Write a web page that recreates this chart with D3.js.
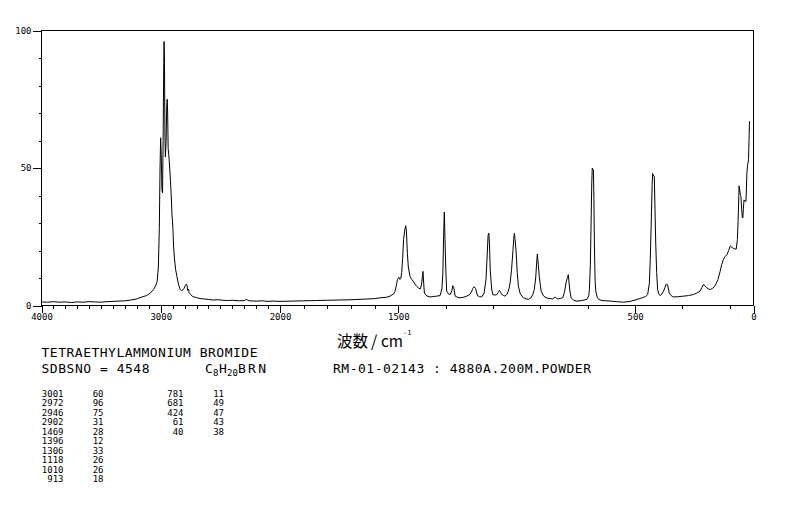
<!DOCTYPE html>
<html><head><meta charset="utf-8">
<script src="https://cdn.jsdelivr.net/npm/d3@7"></script>
<style>
html,body{margin:0;padding:0;background:#fff;}
svg{display:block;}
</style></head>
<body>
<svg id="chart" width="794" height="510"></svg>
<script>
// ---------- data ----------
const spectrumWn = [4000,3950,3900,3850,3800,3750,3700,3650,3600,3550,3500,3450,3400,3350,3300,3250,3200,3150,3120,3090,3060,3040,3030,3020,3012,3006,3001,2996,2990,2985,2980,2975,2972,2969,2965,2961,2955,2950,2946,2942,2938,2933,2925,2918,2910,2906,2902,2898,2893,2885,2875,2864,2850,2837,2825,2815,2805,2795,2785,2780,2775,2768,2762,2750,2730,2700,2670,2640,2600,2560,2520,2480,2440,2400,2350,2300,2280,2260,2200,2150,2100,2050,2000,1950,1900,1850,1800,1750,1700,1650,1600,1577,1550,1535,1520,1514,1508,1504,1498,1494,1490,1486,1482,1478,1473,1469,1466,1462,1458,1451,1444,1437,1430,1423,1416,1408,1402,1398,1396,1393,1390,1380,1366,1350,1338,1324,1316,1312,1309,1306,1303,1300,1296,1288,1281,1274,1270,1266,1260,1250,1239,1225,1211,1198,1190,1186,1179,1174,1166,1157,1148,1138,1130,1125,1121,1118,1115,1112,1106,1101,1092,1084,1078,1073,1068,1063,1055,1049,1040,1033,1028,1022,1016,1012,1010,1007,1003,998,993,985,972,960,951,940,932,926,920,915,913,909,905,897,887,876,860,848,842,837,832,827,815,806,798,792,786,782,779,775,770,760,746,725,704,696,693,689,686,683,681,678,676,674,672,669,666,660,654,640,620,605,580,549,520,492,470,455,447,440,436,432,428,426,424,421,419,416,413,409,405,400,394,387,380,374,370,366,363,359,356,348,338,320,296,275,254,240,226,218,212,205,197,190,183,172,162,150,141,134,127,120,112,105,98,92,87,80,73,68,65,62,61,58,55,53,50,47,45,43,40,36,32,30,28,25,21,19,17];
const spectrumInt = [1.3,1.2,1.4,1.2,1.3,1.1,1.3,1.2,1.4,1.3,1.2,1.4,1.5,1.6,1.7,2.0,2.4,3.2,3.6,4.4,5.8,7.5,8.8,14,28,50,61,55,42,41,60,88,96,90,62,54,60,72,75,70,57,55,50,45,38,33,31,28,22,17,13,10.5,7.5,5.8,5.4,5.6,6.2,7.2,7.8,7.4,5.5,6,4.7,4.0,3.2,2.9,2.5,2.4,2.2,2.0,2.1,1.9,1.8,1.9,1.7,1.8,2.2,1.7,1.6,1.7,1.5,1.6,1.5,1.6,1.7,1.8,1.9,2.0,2.1,2.3,2.5,2.8,3.0,3.4,4.2,5.2,7.5,9.4,10.2,9.5,9.8,12,17,24,27.5,29,27,19,14,10.6,9.5,8.8,7.8,7,6.4,6.0,7.5,11,12.4,8,4.5,3.5,3.1,3.3,3.4,3.6,6,12,25,34,24,14,5.2,4.2,4.0,5.5,7.2,6.5,3.4,3.0,2.8,3.0,3.4,4.0,5.2,6.2,6.8,6.2,3.6,3.2,3.1,4.5,9.4,18,25.5,26.3,22,13,6,4.0,3.8,4.0,4.8,5.5,4.8,4.0,3.6,3.4,4.2,6,8.2,13,20,25,26.3,24,20,12,7,4.2,2.8,2.4,2.2,2.8,4.0,5.8,10,16.7,18.7,15,10.6,5.2,3.5,2.8,2.5,2.4,2.8,3.1,2.6,2.4,2.6,2.8,5,8.2,10.2,11.2,8.2,5,2.8,1.9,1.6,1.8,2.2,3.5,5.8,15,30,45,50,49.5,49.3,38,22,9,5.2,3,2.2,1.8,1.7,1.6,1.4,1.2,1.5,2.2,2.8,3.3,4,8,16.7,30,44,48,47.5,47,46.9,35,22.7,12,5.8,4.2,3.6,4.2,5.2,6.5,7.6,7.8,7.6,6,4.6,3.6,3.1,3.2,3.4,3.6,4.0,4.5,5.2,6.5,7.6,7.2,6.4,6.0,5.8,6.3,7.2,9.5,12.4,15,16.7,17.8,18.5,20,21.7,21.2,20.9,20.6,20.5,24,31,40,43.5,42,40,39.6,35,32,31.8,35,38.4,38,37.8,42,48,51,53,60,67];

const xMajorTicks = [4000,3000,2000,1500,500,0];
const xMajorLabels = ["4000","3000","2000","1500","500","0"];
const xMinorTicks = [3900,3800,3700,3600,3500,3400,3300,3200,3100,2900,2800,2700,2600,2500,2400,2300,2200,2100,1900,1800,1700,1600,1300,1100,900,700,300,100];
const yMajorTicks = [0,50,100];
const yMinorTicks = [10,20,30,40,60,70,80,90];

const titleText = "TETRAETHYLAMMONIUM BROMIDE";
const sdbsText = "SDBSNO = 4548";
const condText = "RM-01-02143 : 4880A.200M.POWDER";
const axisLabelCJK = "波数";
const axisLabelUnit = "cm";

const peakWnA = ["3001","2972","2946","2902","1469","1396","1306","1118","1010","913"];
const peakIntA = ["60","96","75","31","28","12","33","26","26","18"];
const peakWnB = ["781","681","424","61","40"];
const peakIntB = ["11","49","47","43","38"];

// ---------- drawing ----------
const svg = d3.select("#chart");
const L = 41.5, R = 753.5, T = 30.5, B = 305.5;
const x = d3.scaleLinear().domain([4000,2000,0]).range([L,280,R]);
const y = d3.scaleLinear().domain([0,100]).range([B,T]);
const mono = "'DejaVu Sans Mono', 'Liberation Mono', monospace";
const cjk = "'Noto Sans CJK JP','Noto Sans CJK SC',sans-serif";

svg.append("rect").attr("width",794).attr("height",510).attr("fill","#fff");

// frame
svg.append("rect").attr("x",L).attr("y",T).attr("width",R-L).attr("height",B-T)
  .attr("fill","none").attr("stroke","#000").attr("stroke-width",1).attr("shape-rendering","crispEdges");

// x axis
const gxMinor = svg.append("g").attr("transform",`translate(0,${B})`)
  .call(d3.axisBottom(x).tickValues(xMinorTicks).tickSize(3).tickFormat(""));
const gxMajor = svg.append("g").attr("transform",`translate(0,${B})`)
  .call(d3.axisBottom(x).tickValues(xMajorTicks).tickSize(7).tickPadding(1)
    .tickFormat((d,i)=>xMajorLabels[i]));
// y axis
const gyMinor = svg.append("g").attr("transform",`translate(${L},0)`)
  .call(d3.axisLeft(y).tickValues(yMinorTicks).tickSize(3).tickFormat(""));
const gyMajor = svg.append("g").attr("transform",`translate(${L},0)`)
  .call(d3.axisLeft(y).tickValues(yMajorTicks).tickSize(9).tickPadding(1).tickFormat(d=>String(d)));

[gxMinor,gxMajor,gyMinor,gyMajor].forEach(g=>{
  g.select(".domain").remove();
  g.selectAll("line").attr("stroke","#000").attr("shape-rendering","crispEdges");
  g.selectAll("text").attr("fill","#000").style("font-family",mono).style("font-size","9px");
});

// spectrum
const pts = spectrumWn.map((w,i)=>[w,spectrumInt[i]]);
const line = d3.line().x(d=>x(d[0])).y(d=>y(d[1]));
svg.append("path").datum(pts).attr("d",line).attr("fill","none")
  .attr("stroke","#000").attr("stroke-width",1).attr("stroke-linejoin","miter");

// axis label: 波数/cm^-1 (one text element, superscript as tspan)
const al = svg.append("text").attr("y",347).attr("fill","#000").style("font-size","16px");
al.append("tspan").attr("x",337).style("font-family",cjk).attr("textLength",31).attr("lengthAdjust","spacingAndGlyphs").text(axisLabelCJK);
al.append("tspan").attr("x",371).style("font-family",cjk).text("/");
al.append("tspan").attr("x",381).style("font-family",cjk).attr("textLength",22).attr("lengthAdjust","spacingAndGlyphs").text(axisLabelUnit);
al.append("tspan").attr("x",403).attr("dy",-12.5).style("font-family",mono).style("font-size","7px").text("-1");

// header texts
svg.append("text").attr("x",41.5).attr("y",356.5).style("font-family",mono).style("font-size","13px")
  .attr("textLength",216).attr("lengthAdjust","spacing").attr("fill","#000").text(titleText);
svg.append("text").attr("x",41.5).attr("y",372.5).style("font-family",mono).style("font-size","13px")
  .attr("textLength",108).attr("lengthAdjust","spacing").attr("fill","#000").text(sdbsText);
svg.append("text").attr("x",333).attr("y",372.5).style("font-family",mono).style("font-size","13px")
  .attr("textLength",258).attr("lengthAdjust","spacing").attr("fill","#000").text(condText);

// formula
const f = svg.append("text").attr("y",372.5).style("font-family",mono).style("font-size","13px").attr("fill","#000");
f.append("tspan").attr("x",205).text("C");
f.append("tspan").attr("x",213).attr("dy",3).style("font-size","9px").text("8");
f.append("tspan").attr("x",219).attr("dy",-3).text("H");
f.append("tspan").attr("x",227).attr("dy",3).style("font-size","9px").text("20");
f.append("tspan").attr("x",238).attr("dy",-3).attr("textLength",28).attr("lengthAdjust","spacing").text("BRN");

// peak table
function col(arr, xr){
  svg.append("g").selectAll("text").data(arr).join("text")
    .attr("x",xr).attr("y",(d,i)=>396.5 + i*9.55).attr("text-anchor","end")
    .style("font-family",mono).style("font-size","9px").attr("fill","#000").text(d=>d);
}
col(peakWnA,63.5); col(peakIntA,103.5); col(peakWnB,183.5); col(peakIntB,224);
</script>
</body></html>
